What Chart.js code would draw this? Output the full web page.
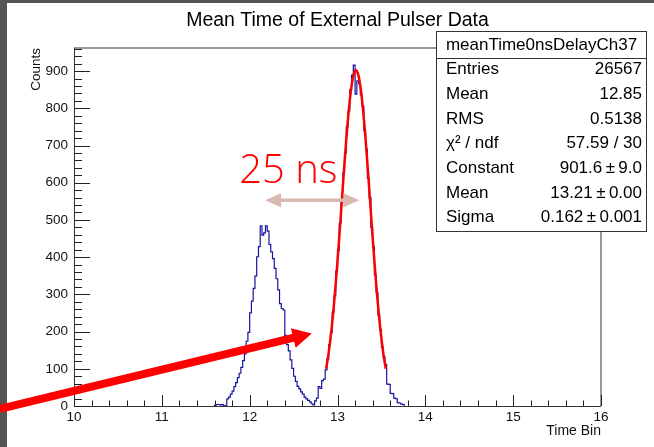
<!DOCTYPE html>
<html>
<head>
<meta charset="utf-8">
<script src="https://cdn.jsdelivr.net/npm/chart.js@4.4.1/dist/chart.umd.min.js"></script>
<style>
  html, body { margin: 0; padding: 0; background: #fff; }
  #wrap { width: 654px; height: 447px; position: relative; }
</style>
</head>
<body>
<div id="wrap"><canvas id="pulser"></canvas></div>
<script>
// histogram: 0.02 wide bins starting at 11.60
const binLow = 11.6;
const binWidth = 0.02;
const counts = [
  2, 4, 4, 3, 4, 0, 2, 19, 24, 32,
  40, 52, 63, 76, 88, 104, 122, 140, 174, 198,
  250, 282, 316, 349, 401, 428, 484, 459, 465, 484,
  470, 434, 414, 396, 370, 342, 312, 275, 262, 258,
  190, 165, 148, 124, 101, 80, 66, 53, 46, 38,
  32, 24, 19, 15, 11, 6, 3, 14, 21, 52,
  47, 68, 72, 97, 126, 165, 198, 252, 296, 362,
  418, 490, 548, 626, 680, 750, 792, 850, 889, 916,
  838, 874, 866, 836, 805, 740, 690, 612, 560, 480,
  428, 352, 305, 245, 206, 158, 132, 112, 59, 58,
  34, 33, 21, 20, 9, 8, 5, 4
];

// gaussian fit curve, every 0.02 from 12.87
const fitLow = 12.87;
const fitStep = 0.02;
const fitValues = [
  100, 128, 162, 202, 249, 301, 359, 421, 486, 554,
  621, 685, 745, 798, 842, 875, 895, 902, 895, 875,
  842, 798, 745, 685, 621, 554, 486, 421, 359, 301,
  249, 202, 162, 128, 100
];

const xTicks = [10, 11, 12, 13, 14, 15, 16];
const yTicks = [0, 100, 200, 300, 400, 500, 600, 700, 800, 900];

const statsTitle = "meanTime0nsDelayCh37";
const statsLabels = ["Entries", "Mean", "RMS", "\u03c7\u00b2 / ndf", "Constant", "Mean", "Sigma"];
const statsValues = ["26567", "12.85", "0.5138", "57.59 / 30", "901.6\u2009\u00b1\u20099.0", "13.21\u2009\u00b1\u20090.00", "0.162\u2009\u00b1\u20090.001"];

// hand drawn annotations, in data units
const spanArrow = { x0: 12.175, x1: 13.25, y: 553 };
const spanLabel = { text: "25 ns", x: 11.88, y: 599 };
const pointer = { x0: 9.157, y0: -8, x1: 12.707, y1: 195 };

const FONT = "'Liberation Sans', Arial, Helvetica, sans-serif";

const histPoints = [{ x: binLow, y: 0 }];
counts.forEach((c, i) => histPoints.push({ x: binLow + i * binWidth, y: c }));
histPoints.push({ x: binLow + counts.length * binWidth, y: 0 });

const fitPoints = fitValues.map((v, i) => ({ x: fitLow + i * fitStep, y: v }));

function arrowHead(ctx, tx, ty, ang, len, half) {
  ctx.beginPath();
  ctx.moveTo(tx, ty);
  ctx.lineTo(tx - len * Math.cos(ang) + half * Math.sin(ang), ty - len * Math.sin(ang) - half * Math.cos(ang));
  ctx.lineTo(tx - len * Math.cos(ang) - half * Math.sin(ang), ty - len * Math.sin(ang) + half * Math.cos(ang));
  ctx.closePath();
  ctx.fill();
}

const decor = {
  id: "decor",
  beforeDraw(chart) {
    const { ctx, width, height } = chart;
    ctx.save();
    ctx.fillStyle = "#fff";
    ctx.fillRect(0, 0, width, height);
    ctx.fillStyle = "#555";
    ctx.fillRect(0, 0, 7, height);
    ctx.fillRect(0, 0, width, 3);
    ctx.restore();
  },
  afterDatasetsDraw(chart) {
    const { ctx, chartArea: a, scales } = chart;
    const xs = scales.x, ys = scales.y;
    ctx.save();
    // frame
    ctx.strokeStyle = "#777";
    ctx.lineWidth = 1.5;
    ctx.beginPath();
    ctx.moveTo(a.left, a.top);
    ctx.lineTo(a.right, a.top);
    ctx.lineTo(a.right, a.bottom);
    ctx.stroke();
    ctx.strokeStyle = "#333";
    ctx.lineWidth = 1;
    ctx.beginPath();
    ctx.moveTo(a.left + 0.5, a.top);
    ctx.lineTo(a.left + 0.5, a.bottom + 0.5);
    ctx.lineTo(a.right, a.bottom + 0.5);
    ctx.stroke();
    // inward ticks
    ctx.strokeStyle = "#222";
    ctx.beginPath();
    for (let i = 0; i <= 30; i++) {
      const px = Math.round(xs.getPixelForValue(10 + i * 0.2)) + 0.5;
      const len = i % 5 === 0 ? 11 : 5.5;
      ctx.moveTo(px, a.bottom);
      ctx.lineTo(px, a.bottom - len);
    }
    for (let i = 0; i * 20 <= ys.max; i++) {
      const py = Math.round(ys.getPixelForValue(i * 20)) + 0.5;
      const len = i % 5 === 0 ? 16 : 8;
      ctx.moveTo(a.left, py);
      ctx.lineTo(a.left + len, py);
    }
    ctx.stroke();
    ctx.restore();
  },
  afterDraw(chart) {
    const { ctx, scales } = chart;
    const xs = scales.x, ys = scales.y;
    ctx.save();

    // stats box
    const bx = 436.5, by = 31.5, bw = 210, bh = 200;
    ctx.fillStyle = "#fff";
    ctx.fillRect(bx, by, bw, bh);
    ctx.strokeStyle = "#333";
    ctx.lineWidth = 1;
    ctx.strokeRect(bx, by, bw, bh);
    ctx.beginPath();
    ctx.moveTo(bx, 58.5);
    ctx.lineTo(bx + bw, 58.5);
    ctx.stroke();
    ctx.fillStyle = "#000";
    ctx.font = "17px " + FONT;
    ctx.textBaseline = "middle";
    ctx.textAlign = "center";
    ctx.fillText(statsTitle, bx + bw / 2, 45.5);
    statsLabels.forEach((lab, i) => {
      const ty = 69.5 + i * 24.7;
      ctx.textAlign = "left";
      ctx.fillText(lab, 446, ty);
      ctx.textAlign = "right";
      ctx.fillText(statsValues[i], 642, ty);
    });

    // "25 ns" with double arrow
    ctx.fillStyle = "#ff0000";
    ctx.font = "300 40px 'Open Sans', Lato, sans-serif";
    ctx.textAlign = "left";
    ctx.textBaseline = "alphabetic";
    ctx.fillText(spanLabel.text, xs.getPixelForValue(spanLabel.x), ys.getPixelForValue(spanLabel.y));

    const sx0 = xs.getPixelForValue(spanArrow.x0), sx1 = xs.getPixelForValue(spanArrow.x1);
    const sy = ys.getPixelForValue(spanArrow.y);
    ctx.strokeStyle = "#d9b9b0";
    ctx.fillStyle = "#d9b9b0";
    ctx.lineWidth = 3.5;
    ctx.beginPath();
    ctx.moveTo(sx0 + 10, sy);
    ctx.lineTo(sx1 - 10, sy);
    ctx.stroke();
    arrowHead(ctx, sx0, sy, Math.PI, 16, 7);
    arrowHead(ctx, sx1, sy, 0, 16, 7);

    // red pointer arrow
    const px0 = xs.getPixelForValue(pointer.x0), py0 = ys.getPixelForValue(pointer.y0);
    const px1 = xs.getPixelForValue(pointer.x1), py1 = ys.getPixelForValue(pointer.y1);
    const ang = Math.atan2(py1 - py0, px1 - px0);
    ctx.strokeStyle = "#ff0000";
    ctx.fillStyle = "#ff0000";
    ctx.lineWidth = 8;
    ctx.beginPath();
    ctx.moveTo(px0, py0);
    ctx.lineTo(px1 - 14 * Math.cos(ang), py1 - 14 * Math.sin(ang));
    ctx.stroke();
    arrowHead(ctx, px1, py1, ang, 19, 10);

    ctx.restore();
  }
};

new Chart(document.getElementById("pulser").getContext("2d"), {
  type: "line",
  data: {
    datasets: [
      {
        label: "fit",
        data: fitPoints,
        borderColor: "#ff0000",
        borderWidth: 2.5,
        pointRadius: 0,
        tension: 0.4,
        fill: false,
        order: 0
      },
      {
        label: "meanTime0nsDelayCh37",
        data: histPoints,
        borderColor: "#1414a0",
        borderWidth: 1.2,
        pointRadius: 0,
        stepped: "before",
        fill: false,
        order: 1
      }
    ]
  },
  options: {
    responsive: true,
    maintainAspectRatio: false,
    animation: false,
    events: [],
    layout: { padding: { top: 0, right: 53, bottom: 0, left: 0 } },
    plugins: {
      legend: { display: false },
      tooltip: { enabled: false },
      title: {
        display: true,
        fullSize: false,
        text: "Mean Time of External Pulser Data",
        color: "#000",
        font: { family: FONT, size: 19.5, weight: "normal" },
        padding: { top: 8.5, bottom: 16.1 }
      }
    },
    scales: {
      x: {
        type: "linear",
        min: 10,
        max: 16,
        grid: { display: false, drawTicks: false, tickLength: 0 },
        border: { display: false },
        afterBuildTicks: s => { s.ticks = xTicks.map(v => ({ value: v })); },
        afterFit: s => { s.height = 41; },
        ticks: {
          color: "#111",
          padding: 3,
          maxRotation: 0,
          autoSkip: false,
          font: { family: FONT, size: 13.5 }
        },
        title: {
          display: true,
          text: "Time Bin",
          align: "end",
          color: "#111",
          font: { family: FONT, size: 14 },
          padding: { top: 0, bottom: 7 }
        }
      },
      y: {
        type: "linear",
        min: 0,
        max: 962,
        grid: { display: false, drawTicks: false, tickLength: 0 },
        border: { display: false },
        afterBuildTicks: s => { s.ticks = yTicks.map(v => ({ value: v })); },
        afterFit: s => { s.width = 74; },
        ticks: {
          color: "#111",
          padding: 6,
          font: { family: FONT, size: 13.5 }
        },
        title: {
          display: true,
          text: "Counts",
          align: "end",
          color: "#111",
          font: { family: FONT, size: 13.5 },
          padding: { top: 28, bottom: 0 }
        }
      }
    }
  },
  plugins: [decor]
});
</script>
</body>
</html>
